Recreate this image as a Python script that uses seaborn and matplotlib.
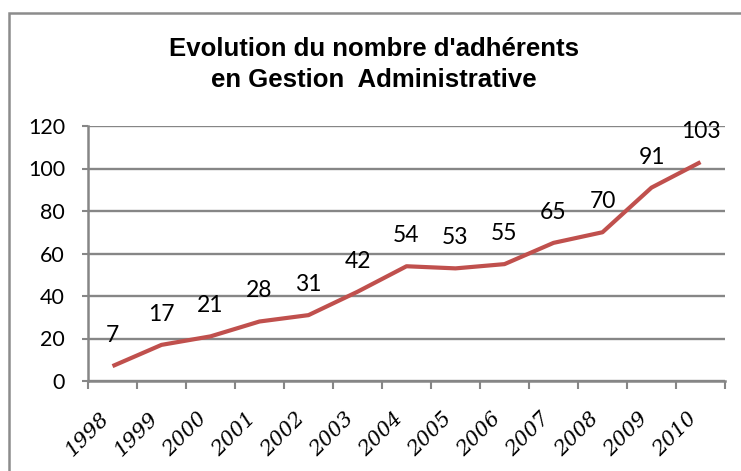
import matplotlib
matplotlib.use("Agg")
import matplotlib.pyplot as plt
import seaborn as sns
import pandas as pd
from matplotlib.patches import Rectangle

years = ["1998", "1999", "2000", "2001", "2002", "2003", "2004",
         "2005", "2006", "2007", "2008", "2009", "2010"]
members = [7, 17, 21, 28, 31, 42, 54, 53, 55, 65, 70, 91, 103]
y_ticks = [0, 20, 40, 60, 80, 100, 120]
title_lines = ["Evolution du nombre d'adhérents", "en Gestion  Administrative"]

sns.set_theme(style="white")
plt.rcParams['font.family'] = ['Lato', 'DejaVu Sans']

W, H = 741, 471
fig = plt.figure(figsize=(W / 100, H / 100), dpi=100)
fig.patch.set_facecolor("white")

# outer chart frame (extends beyond right and bottom)
fig.patches.append(Rectangle((8.5 / W, -0.1), 1.2, 1 - 13 / H + 0.1,
                             transform=fig.transFigure, fill=False,
                             edgecolor="#8c8c8c", linewidth=1.8, zorder=0))

ax = fig.add_axes([88 / W, 1 - 381 / H, (725 - 88) / W, (381 - 126) / H])

df = pd.DataFrame({"pos": range(len(years)), "year": years, "n": members})
sns.lineplot(data=df, x="pos", y="n", ax=ax, color="#C0504D", linewidth=3.0,
             solid_capstyle="butt", zorder=3)

grey = "#868686"
ax.set_xlim(-0.5, len(years) - 0.5)
ax.set_ylim(0, 120)
ax.set_yticks(y_ticks)
ax.set_yticklabels([str(v) for v in y_ticks], fontsize=15.5, color="black")
ax.yaxis.grid(True, color=grey, linewidth=1.7)
ax.set_axisbelow(True)
ax.tick_params(axis="y", length=4.5, width=1.5, color=grey, pad=12, left=True)

# category labels at centres, tick marks at boundaries
ax.set_xticks(range(len(years)))
ax.set_xticklabels(years, rotation=45, ha="right", fontsize=15,
                   fontstyle="italic", family=["DejaVu Serif"], color="black")
ax.tick_params(axis="x", length=0, pad=20)
ax.set_xticks([i - 0.5 for i in range(len(years) + 1)], minor=True)
ax.tick_params(axis="x", which="minor", length=6, width=1.5, color=grey,
               bottom=True)
ax.set_xlabel("")
ax.set_ylabel("")

for s in ["top", "right"]:
    ax.spines[s].set_visible(False)
for s in ["left", "bottom"]:
    ax.spines[s].set_color(grey)
    ax.spines[s].set_linewidth(1.8)

for i, v in enumerate(members):
    ax.annotate(str(v), (i, v), xytext=(0, 22), textcoords="offset points",
                ha="center", va="center", fontsize=16.5, color="black")

fig.text(374 / W, 1 - 37 / H, "\n".join(title_lines), ha="center", va="top",
         fontsize=18.5, fontweight="bold", family=["Liberation Sans"],
         linespacing=1.35, color="black")

fig.savefig("out.png", dpi=100, facecolor="white")
